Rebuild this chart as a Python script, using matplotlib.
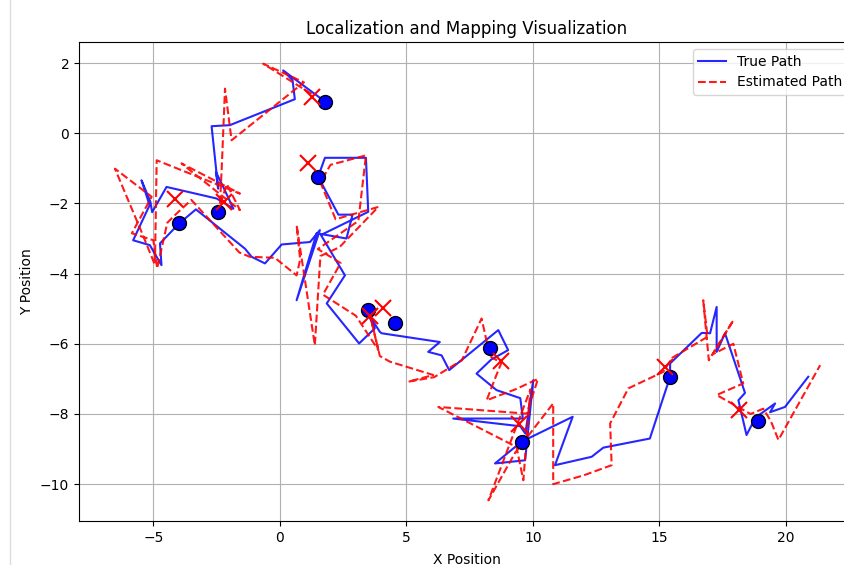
import matplotlib
matplotlib.use("Agg")
import matplotlib.pyplot as plt
from matplotlib.lines import Line2D

# True path (x, y)
true_x = [1.58, 0.13, 0.50, 0.59, -1.98, -2.70, -2.44, -2.53, -2.24, -1.84,
          -2.50, -4.48, -5.05, -5.12, -5.47, -5.15, -5.80, -5.14, -4.68, -4.74,
          -3.98, -3.32, -1.38, -1.12, -0.59, 0.07, 1.19, 1.58, 0.66, 1.45,
          2.63, 2.87, 2.31, 1.51, 1.78, 3.40, 3.49, 1.62, 2.57, 1.85,
          3.13, 3.75, 3.45, 3.95, 4.02, 6.32, 5.86, 6.39, 6.69, 8.63,
          9.02, 8.35, 7.77, 8.56, 9.50, 9.60, 6.85, 9.50, 9.70, 10.01,
          9.69, 8.50, 9.55, 11.57, 10.87, 12.32, 12.78, 14.62, 15.42, 15.42,
          16.67, 17.00, 17.26, 17.26, 17.59, 18.38, 18.12, 18.44, 18.80, 19.57,
          19.37, 19.96, 20.88]
true_y = [1.01, 1.79, 1.51, 0.97, 0.23, 0.20, -1.58, -1.10, -1.53, -2.15,
          -1.86, -1.53, -2.25, -1.95, -1.34, -2.05, -3.05, -3.19, -3.76, -3.14,
          -2.57, -2.17, -3.29, -3.52, -3.71, -3.17, -3.10, -2.76, -4.76, -2.85,
          -3.00, -2.32, -2.32, -1.24, -0.70, -0.70, -2.24, -2.90, -4.05, -4.85,
          -5.99, -5.56, -5.10, -5.66, -5.70, -5.95, -6.23, -6.33, -6.75, -5.61,
          -6.18, -6.45, -6.85, -7.32, -7.55, -8.13, -8.13, -8.35, -8.56, -7.04,
          -9.32, -9.41, -8.79, -8.08, -9.46, -9.22, -8.96, -8.70, -6.94, -6.56,
          -5.69, -5.70, -4.95, -6.23, -5.70, -7.40, -7.61, -8.60, -8.10, -7.70,
          -7.95, -7.80, -6.94]

# Estimated path (x, y)
est_x = [1.25, -0.66, 0.95, -1.91, -2.17, -2.30, -2.37, -2.10, -1.58, -3.89,
         -1.58, -4.87, -4.94, -5.47, -6.52, -5.07, -5.85, -5.00, -4.85, -4.45,
         -4.10, -3.50, -1.60, -1.19, -0.20, 0.66, 0.80, 0.66, 1.38, 1.60,
         2.35, 3.89, 2.20, 1.60, 2.00, 3.40, 3.10, 1.50, 2.40, 1.70,
         3.00, 3.89, 3.50, 3.95, 4.35, 6.06, 5.07, 6.10, 7.19, 7.97,
         8.30, 8.75, 8.55, 8.17, 9.30, 10.20, 9.75, 6.26, 9.35, 9.62,
         9.90, 8.24, 9.30, 10.80, 10.80, 12.00, 13.11, 13.05, 13.77, 15.15,
         15.50, 16.90, 16.73, 16.95, 17.92, 17.10, 17.92, 18.31, 17.26, 18.60,
         19.10, 19.40, 19.70, 21.35]
est_y = [1.12, 1.98, 1.45, -0.20, 1.27, -1.00, -2.05, -1.45, -2.19, -0.86,
         -1.72, -0.77, -3.75, -2.81, -1.01, -1.81, -2.85, -3.05, -3.85, -2.55,
         -2.30, -1.90, -3.40, -3.52, -3.55, -4.05, -3.60, -2.62, -6.04, -3.50,
         -3.25, -2.10, -2.45, -1.40, -0.90, -0.63, -2.50, -3.30, -3.70, -4.60,
         -5.20, -6.18, -5.00, -6.35, -6.51, -6.89, -7.08, -6.95, -6.47, -5.28,
         -6.35, -6.55, -6.90, -7.61, -7.30, -7.00, -7.99, -7.80, -8.94, -9.89,
         -7.30, -10.46, -9.10, -7.70, -10.00, -9.75, -9.46, -8.27, -7.27, -6.80,
         -6.40, -5.80, -4.76, -6.47, -5.33, -6.30, -6.00, -7.13, -7.46, -8.00,
         -7.85, -8.20, -8.74, -6.61]

# Landmarks
lm_x = [1.78, 1.51, -2.44, -3.98, 3.49, 4.55, 8.30, 9.55, 15.42, 18.91]
lm_y = [0.89, -1.24, -2.24, -2.57, -5.04, -5.42, -6.13, -8.79, -6.94, -8.20]

# Estimated landmarks
elm_x = [1.25, 1.12, -2.20, -4.15, 3.55, 4.08, 8.75, 9.45, 15.22, 18.15]
elm_y = [1.03, -0.86, -1.95, -1.86, -5.20, -4.99, -6.50, -8.30, -6.65, -7.90]

fig = plt.figure(figsize=(8.45, 5.65), dpi=100)
# axes extends past the right edge of the canvas (cropped screenshot)
ax = fig.add_axes([79/845, 44/565, 791/845, 479/565])

ax.plot(true_x, true_y, color='blue', lw=1.5, alpha=0.85, label='True Path')
ax.plot(est_x, est_y, color='red', ls='--', lw=1.5, alpha=0.9, label='Estimated Path')
ax.plot(lm_x, lm_y, 'o', color='blue', markeredgecolor='black', markersize=10, ls='none')
ax.plot(elm_x, elm_y, 'x', color='red', markersize=11, markeredgewidth=1.5, ls='none')

ax.set_xlim(-7.94, 23.32)
ax.set_ylim(-11.05, 2.6)
ax.set_xticks([-5, 0, 5, 10, 15, 20])
ax.set_yticks([-10, -8, -6, -4, -2, 0, 2])
ax.grid(True)
ax.set_title('Localization and Mapping Visualization', fontsize=12, x=388/791)
ax.set_xlabel('X Position', fontsize=10)
ax.xaxis.set_label_coords(388/791, -0.066)
ax.set_ylabel('Y Position', fontsize=10)
ax.legend(loc='upper right', bbox_to_anchor=(776/791, 1.0))

fig.add_artist(Line2D([10/845, 10/845], [0, 1], color='#dddddd', lw=1))

fig.savefig('out.png', dpi=100)
